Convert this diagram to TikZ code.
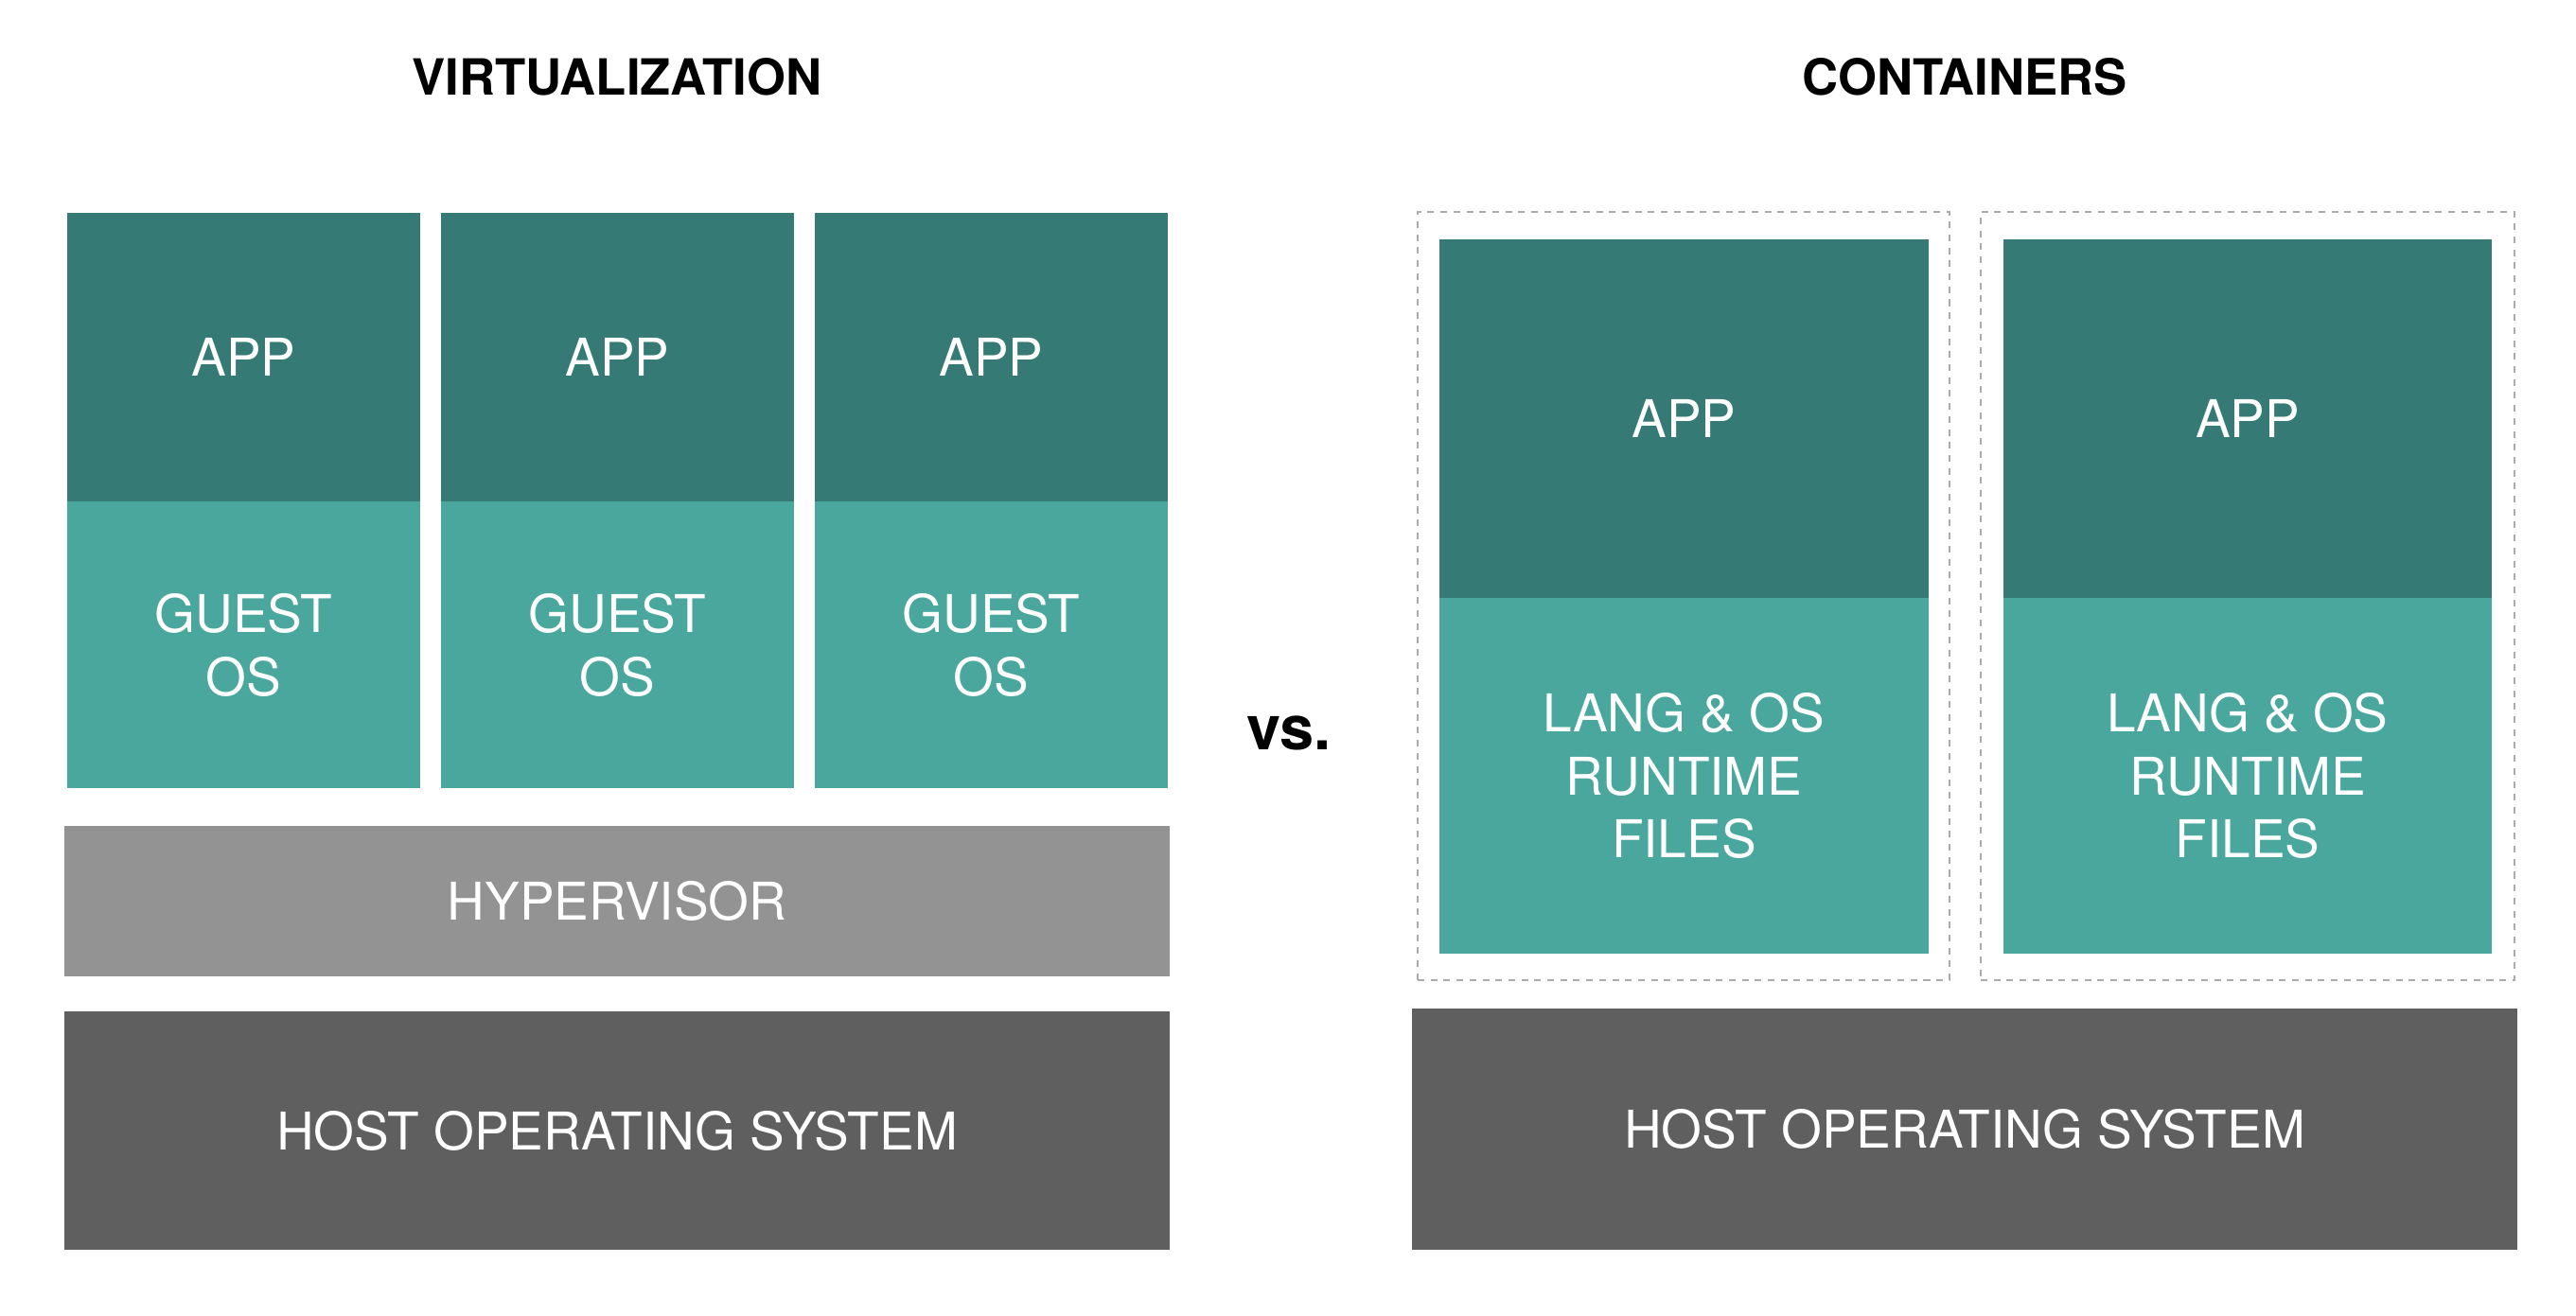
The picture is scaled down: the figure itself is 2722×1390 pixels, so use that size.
\documentclass[tikz,border=0pt]{standalone}
\usepackage{fontspec}
\setmainfont{TeX Gyre Heros}
\definecolor{appc}{HTML}{357A75}
\definecolor{osc}{HTML}{4AA79D}
\definecolor{hypc}{HTML}{939393}
\definecolor{hostc}{HTML}{5F5F5F}
\definecolor{dashc}{HTML}{ABABAB}
\newcommand\layerbox[7]{%
  \node[#1, minimum width={(#5-#3)*0.02cm}, minimum height={(#6-#4)*0.02cm}] (#2) at ({(#3+#5)/2},{(#4+#6)/2}) {#7};}
\tikzset{
  blk/.style={rectangle, inner sep=0pt, outer sep=0pt, draw=none, text=white, align=center,
    font=\fontsize{31.3}{38.1}\selectfont},
  appbox/.style={blk, fill=appc},
  osbox/.style={blk, fill=osc},
  hypbox/.style={blk, fill=hypc},
  hostbox/.style={blk, fill=hostc},
  dashbox/.style={rectangle, inner sep=0pt, outer sep=0pt, draw=dashc, line width=1.42pt,
    dash pattern=on 4pt off 3.8pt},
  titletext/.style={anchor=base, inner sep=0pt, font=\bfseries\fontsize{30}{36}\selectfont},
  vstext/.style={anchor=base, inner sep=0pt, font=\bfseries\fontsize{37}{44}\selectfont}
}
\begin{document}
\begin{tikzpicture}[x=0.02cm, y=-0.02cm]
\useasboundingbox (0,0) rectangle (2722,1390);
% titles
\node[titletext] (tvirt) at (652,100) {VIRTUALIZATION};
\node[titletext] (tcont) at (2076,100) {CONTAINERS};
\node[vstext] (vs) at (1362,792) {vs.};
% virtualization
\layerbox{appbox}{app1}{71}{225}{444}{530}{APP}
\layerbox{appbox}{app2}{466}{225}{839}{530}{APP}
\layerbox{appbox}{app3}{861}{225}{1234}{530}{APP}
\layerbox{osbox}{os1}{71}{530}{444}{833}{GUEST\\OS}
\layerbox{osbox}{os2}{466}{530}{839}{833}{GUEST\\OS}
\layerbox{osbox}{os3}{861}{530}{1234}{833}{GUEST\\OS}
\layerbox{hypbox}{hyp}{68}{873}{1236}{1032}{HYPERVISOR}
\layerbox{hostbox}{hostl}{68}{1069}{1236}{1321}{HOST OPERATING SYSTEM}
% containers
\layerbox{dashbox}{cont1}{1498}{224}{2060}{1036}{}
\layerbox{dashbox}{cont2}{2093}{224}{2657}{1036}{}
\layerbox{appbox}{capp1}{1521}{253}{2038}{632}{APP}
\layerbox{appbox}{capp2}{2117}{253}{2633}{632}{APP}
\layerbox{osbox}{crt1}{1521}{632}{2038}{1008}{LANG \& OS\\RUNTIME\\FILES}
\layerbox{osbox}{crt2}{2117}{632}{2633}{1008}{LANG \& OS\\RUNTIME\\FILES}
\layerbox{hostbox}{hostr}{1492}{1066}{2660}{1321}{HOST OPERATING SYSTEM}
\end{tikzpicture}
\end{document}
